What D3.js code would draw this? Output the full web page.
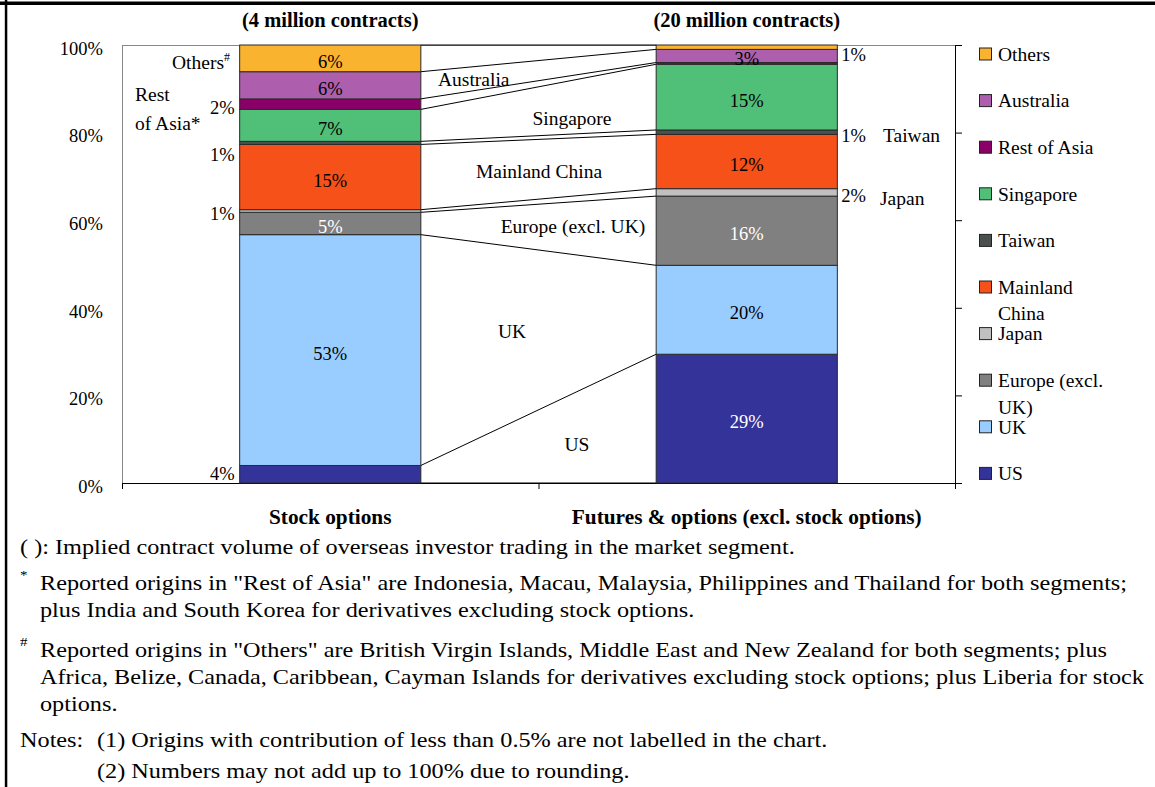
<!DOCTYPE html>
<html>
<head>
<meta charset="utf-8">
<script src="https://cdn.jsdelivr.net/npm/d3@7"></script>
<style>
  body { margin: 0; background: #fff; }
  svg text { font-family: "Liberation Serif", "Times New Roman", serif; fill: #000; }
</style>
</head>
<body>
<div id="chart"></div>
<script>
// data
var categories = ["Stock options", "Futures & options (excl. stock options)"];
var volumes = ["(4 million contracts)", "(20 million contracts)"];
var origins = ["US", "UK", "Europe (excl. UK)", "Japan", "Mainland China",
               "Taiwan", "Singapore", "Rest of Asia", "Australia", "Others"];
var stockOptions   = [4.0, 52.7, 5.1, 0.6, 14.9, 0.7, 7.3, 2.4, 6.2, 6.1];
var futuresOptions = [29.4, 20.3, 15.8, 1.7, 12.4, 1.0, 15.0, 0.4, 3.0, 1.0];
var yTicks = [0, 20, 40, 60, 80, 100];
var legendNames = [["Others"], ["Australia"], ["Rest of Asia"], ["Singapore"], ["Taiwan"],
                   ["Mainland", "China"], ["Japan"], ["Europe (excl.", "UK)"], ["UK"], ["US"]];
var footnotes = [
  {mark: "", lines: ["( ): Implied contract volume of overseas investor trading in the market segment."]},
  {mark: "*", lines: ["Reported origins in \"Rest of Asia\" are Indonesia, Macau, Malaysia, Philippines and Thailand for both segments;",
                      "plus India and South Korea for derivatives excluding stock options."]},
  {mark: "#", lines: ["Reported origins in \"Others\" are British Virgin Islands, Middle East and New Zealand for both segments; plus",
                      "Africa, Belize, Canada, Caribbean, Cayman Islands for derivatives excluding stock options; plus Liberia for stock",
                      "options."]}
];
var notes = ["(1) Origins with contribution of less than 0.5% are not labelled in the chart.",
             "(2) Numbers may not add up to 100% due to rounding."];

var colors = {
  "US": "#333399", "UK": "#99ccff", "Europe (excl. UK)": "#808080", "Japan": "#c0c0c0",
  "Mainland China": "#f55119", "Taiwan": "#4a514d", "Singapore": "#50bf78",
  "Rest of Asia": "#8a0068", "Australia": "#ad5fad", "Others": "#fab32f"
};
var whiteText = ["Europe (excl. UK)", "US"];
// segments whose value label sits beside the bar (left of bar 1, right of bar 2)
var outside = [["US", "Japan", "Taiwan", "Rest of Asia"], ["Japan", "Taiwan", "Others"]];
var labelNudge = [{"Taiwan": 9, "US": -4}, {"Others": 4}];

var W = 1155, H = 787;
var margin = {top: 45, right: 200, bottom: 304, left: 122},
    width = W - margin.left - margin.right,
    height = H - margin.top - margin.bottom;

var svg = d3.select("#chart").append("svg")
    .attr("width", W).attr("height", H);

// page frame
svg.append("rect").attr("x", 0).attr("y", 1.5).attr("width", W).attr("height", 3.5).attr("fill", "#000");
svg.append("rect").attr("x", 4.8).attr("y", 0).attr("width", 2.5).attr("height", H).attr("fill", "#000");

var g = svg.append("g")
    .attr("transform", "translate(" + margin.left + "," + margin.top + ")");

var x = d3.scaleBand().domain(categories).range([0, width])
    .paddingInner(0.565).paddingOuter(0.2825);
var xEdge = d3.scaleLinear().domain([0, 2]).range([0, width]);
var y = d3.scaleLinear().domain([0, 100]).range([height, 0]);

// plot area border (top, grey)
g.append("line").attr("x1", 0).attr("x2", width).attr("y1", 0.5).attr("y2", 0.5)
    .attr("stroke", "#888").attr("stroke-width", 1);

// left axis
var yAxis = g.append("g")
    .call(d3.axisLeft(y).tickValues(yTicks).tickFormat(function(d) { return d + "%"; })
      .tickSize(0).tickPadding(19));
yAxis.select(".domain").attr("stroke", "#888");
yAxis.selectAll("text").attr("font-size", "18.5px").attr("dy", "0.5em");

// right axis, ticks only
var rAxis = g.append("g").attr("transform", "translate(" + width + ",0)")
    .call(d3.axisRight(y).tickValues(yTicks).tickFormat("").tickSize(7));
rAxis.select(".domain").attr("stroke", "#000");

// bottom axis
var xAxis = g.append("g").attr("transform", "translate(0," + height + ")")
    .call(d3.axisBottom(xEdge).tickValues([0, 1, 2]).tickFormat("").tickSize(6));
xAxis.select(".domain").attr("stroke", "#000");

// stacked data
var series = [stockOptions, futuresOptions];
var stacks = series.map(function(vals, ci) {
  var cum = 0;
  return vals.map(function(v, i) {
    var s = {cat: categories[ci], ci: ci, name: origins[i], value: v, y0: cum, y1: cum + v};
    cum += v;
    return s;
  });
});

// series lines between the two bars
var bounds = d3.range(origins.length + 1).map(function(i) {
  return [i === 0 ? 0 : stacks[0][i - 1].y1, i === 0 ? 0 : stacks[1][i - 1].y1];
});
g.selectAll(".series-line").data(bounds).enter().append("line")
    .attr("x1", x(categories[0]) + x.bandwidth())
    .attr("x2", x(categories[1]))
    .attr("y1", function(d) { return y(d[0]); })
    .attr("y2", function(d) { return y(d[1]); })
    .attr("stroke", "#000").attr("stroke-width", 1);

// bars
var segs = stacks[0].concat(stacks[1]);
g.selectAll(".seg").data(segs).enter().append("rect")
    .attr("x", function(d) { return x(d.cat); })
    .attr("y", function(d) { return y(d.y1); })
    .attr("width", x.bandwidth())
    .attr("height", function(d) { return y(d.y0) - y(d.y1); })
    .attr("fill", function(d) { return colors[d.name]; })
    .attr("stroke", "#2a2a2a").attr("stroke-width", 1);

// value labels
g.selectAll(".val").data(segs.filter(function(d) { return d.value >= 0.5; })).enter().append("text")
    .attr("font-size", "18.5px")
    .attr("x", function(d) {
      if (outside[d.ci].indexOf(d.name) >= 0)
        return d.ci === 0 ? x(d.cat) - 5 : x(d.cat) + x.bandwidth() + 4;
      return x(d.cat) + x.bandwidth() / 2;
    })
    .attr("y", function(d) {
      return y((d.y0 + d.y1) / 2) + 3 + (labelNudge[d.ci][d.name] || 0);
    })
    .attr("dy", "0.35em")
    .attr("text-anchor", function(d) {
      if (outside[d.ci].indexOf(d.name) >= 0) return d.ci === 0 ? "end" : "start";
      return "middle";
    })
    .style("fill", function(d) {
      return (outside[d.ci].indexOf(d.name) < 0 && whiteText.indexOf(d.name) >= 0) ? "#fff" : "#000";
    })
    .text(function(d) { return Math.round(d.value) + "%"; });

// origin names written on the chart (page coordinates)
var tags = [
  {t: "Australia", x: 438, y: 79, a: "start"},
  {t: "Singapore", x: 572, y: 118, a: "middle"},
  {t: "Mainland China", x: 539, y: 171, a: "middle"},
  {t: "Europe (excl. UK)", x: 573, y: 226, a: "middle"},
  {t: "UK", x: 512, y: 331, a: "middle"},
  {t: "US", x: 577, y: 444, a: "middle"},
  {t: "Taiwan", x: 883, y: 135, a: "start"},
  {t: "Japan", x: 880, y: 198, a: "start"},
  {t: "Rest", x: 135, y: 94, a: "start"},
  {t: "of Asia*", x: 135, y: 123, a: "start"}
];
svg.selectAll(".tag").data(tags).enter().append("text")
    .attr("x", function(d) { return d.x; })
    .attr("y", function(d) { return d.y; })
    .attr("dy", "0.35em")
    .attr("text-anchor", function(d) { return d.a; })
    .attr("font-size", "19.5px")
    .text(function(d) { return d.t; });
var oth = svg.append("text").attr("x", 230).attr("y", 62).attr("dy", "0.35em")
    .attr("text-anchor", "end").attr("font-size", "19.5px");
oth.append("tspan").text("Others");
oth.append("tspan").attr("font-size", "12px").attr("dy", "-8").text("#");

// titles and category labels
g.selectAll(".vol").data(volumes).enter().append("text")
    .attr("x", function(d, i) { return x(categories[i]) + x.bandwidth() / 2; })
    .attr("y", -25).attr("dy", "0.35em")
    .attr("text-anchor", "middle").attr("font-size", "20.5px").attr("font-weight", "bold")
    .text(function(d) { return d; });
g.selectAll(".cat").data(categories).enter().append("text")
    .attr("x", function(d) { return x(d) + x.bandwidth() / 2; })
    .attr("y", height + 34).attr("dy", "0.35em")
    .attr("text-anchor", "middle").attr("font-size", "21.3px").attr("font-weight", "bold")
    .text(function(d) { return d; });

// legend
var leg = svg.selectAll(".leg").data(legendNames).enter().append("g")
    .attr("transform", function(d, i) { return "translate(979," + (54 + i * 46.6) + ")"; });
leg.append("rect").attr("x", 0.5).attr("y", -6).attr("width", 12).attr("height", 12)
    .attr("fill", function(d, i) { return colors[origins[origins.length - 1 - i]]; })
    .attr("stroke", "#222").attr("stroke-width", 1);
leg.each(function(d) {
  var t = d3.select(this).append("text").attr("x", 19).attr("y", 0).attr("dy", "0.35em")
      .attr("font-size", "19.5px");
  d.forEach(function(line, k) {
    t.append("tspan").attr("x", 19).attr("dy", k === 0 ? "0.35em" : "26.6px").text(line);
  });
});

// footnotes (the source text is set slightly wide)
var sx = 1.155;
function note(str, px, py, size) {
  svg.append("text")
      .attr("transform", "translate(" + px + "," + py + ") scale(" + sx + ",1)")
      .attr("dy", "0.35em").attr("font-size", size).text(str);
}
var fy = [547, 583, 650];
footnotes.forEach(function(f, i) {
  if (f.mark) note(f.mark, 20, fy[i] - 9, "13px");
  f.lines.forEach(function(line, k) {
    note(line, f.mark ? 40 : 20, fy[i] + k * 27, "21px");
  });
});
note("Notes:", 20, 740, "21px");
notes.forEach(function(n, i) {
  note(n, 97, 740 + i * 31, "21px");
});
</script>
</body>
</html>
